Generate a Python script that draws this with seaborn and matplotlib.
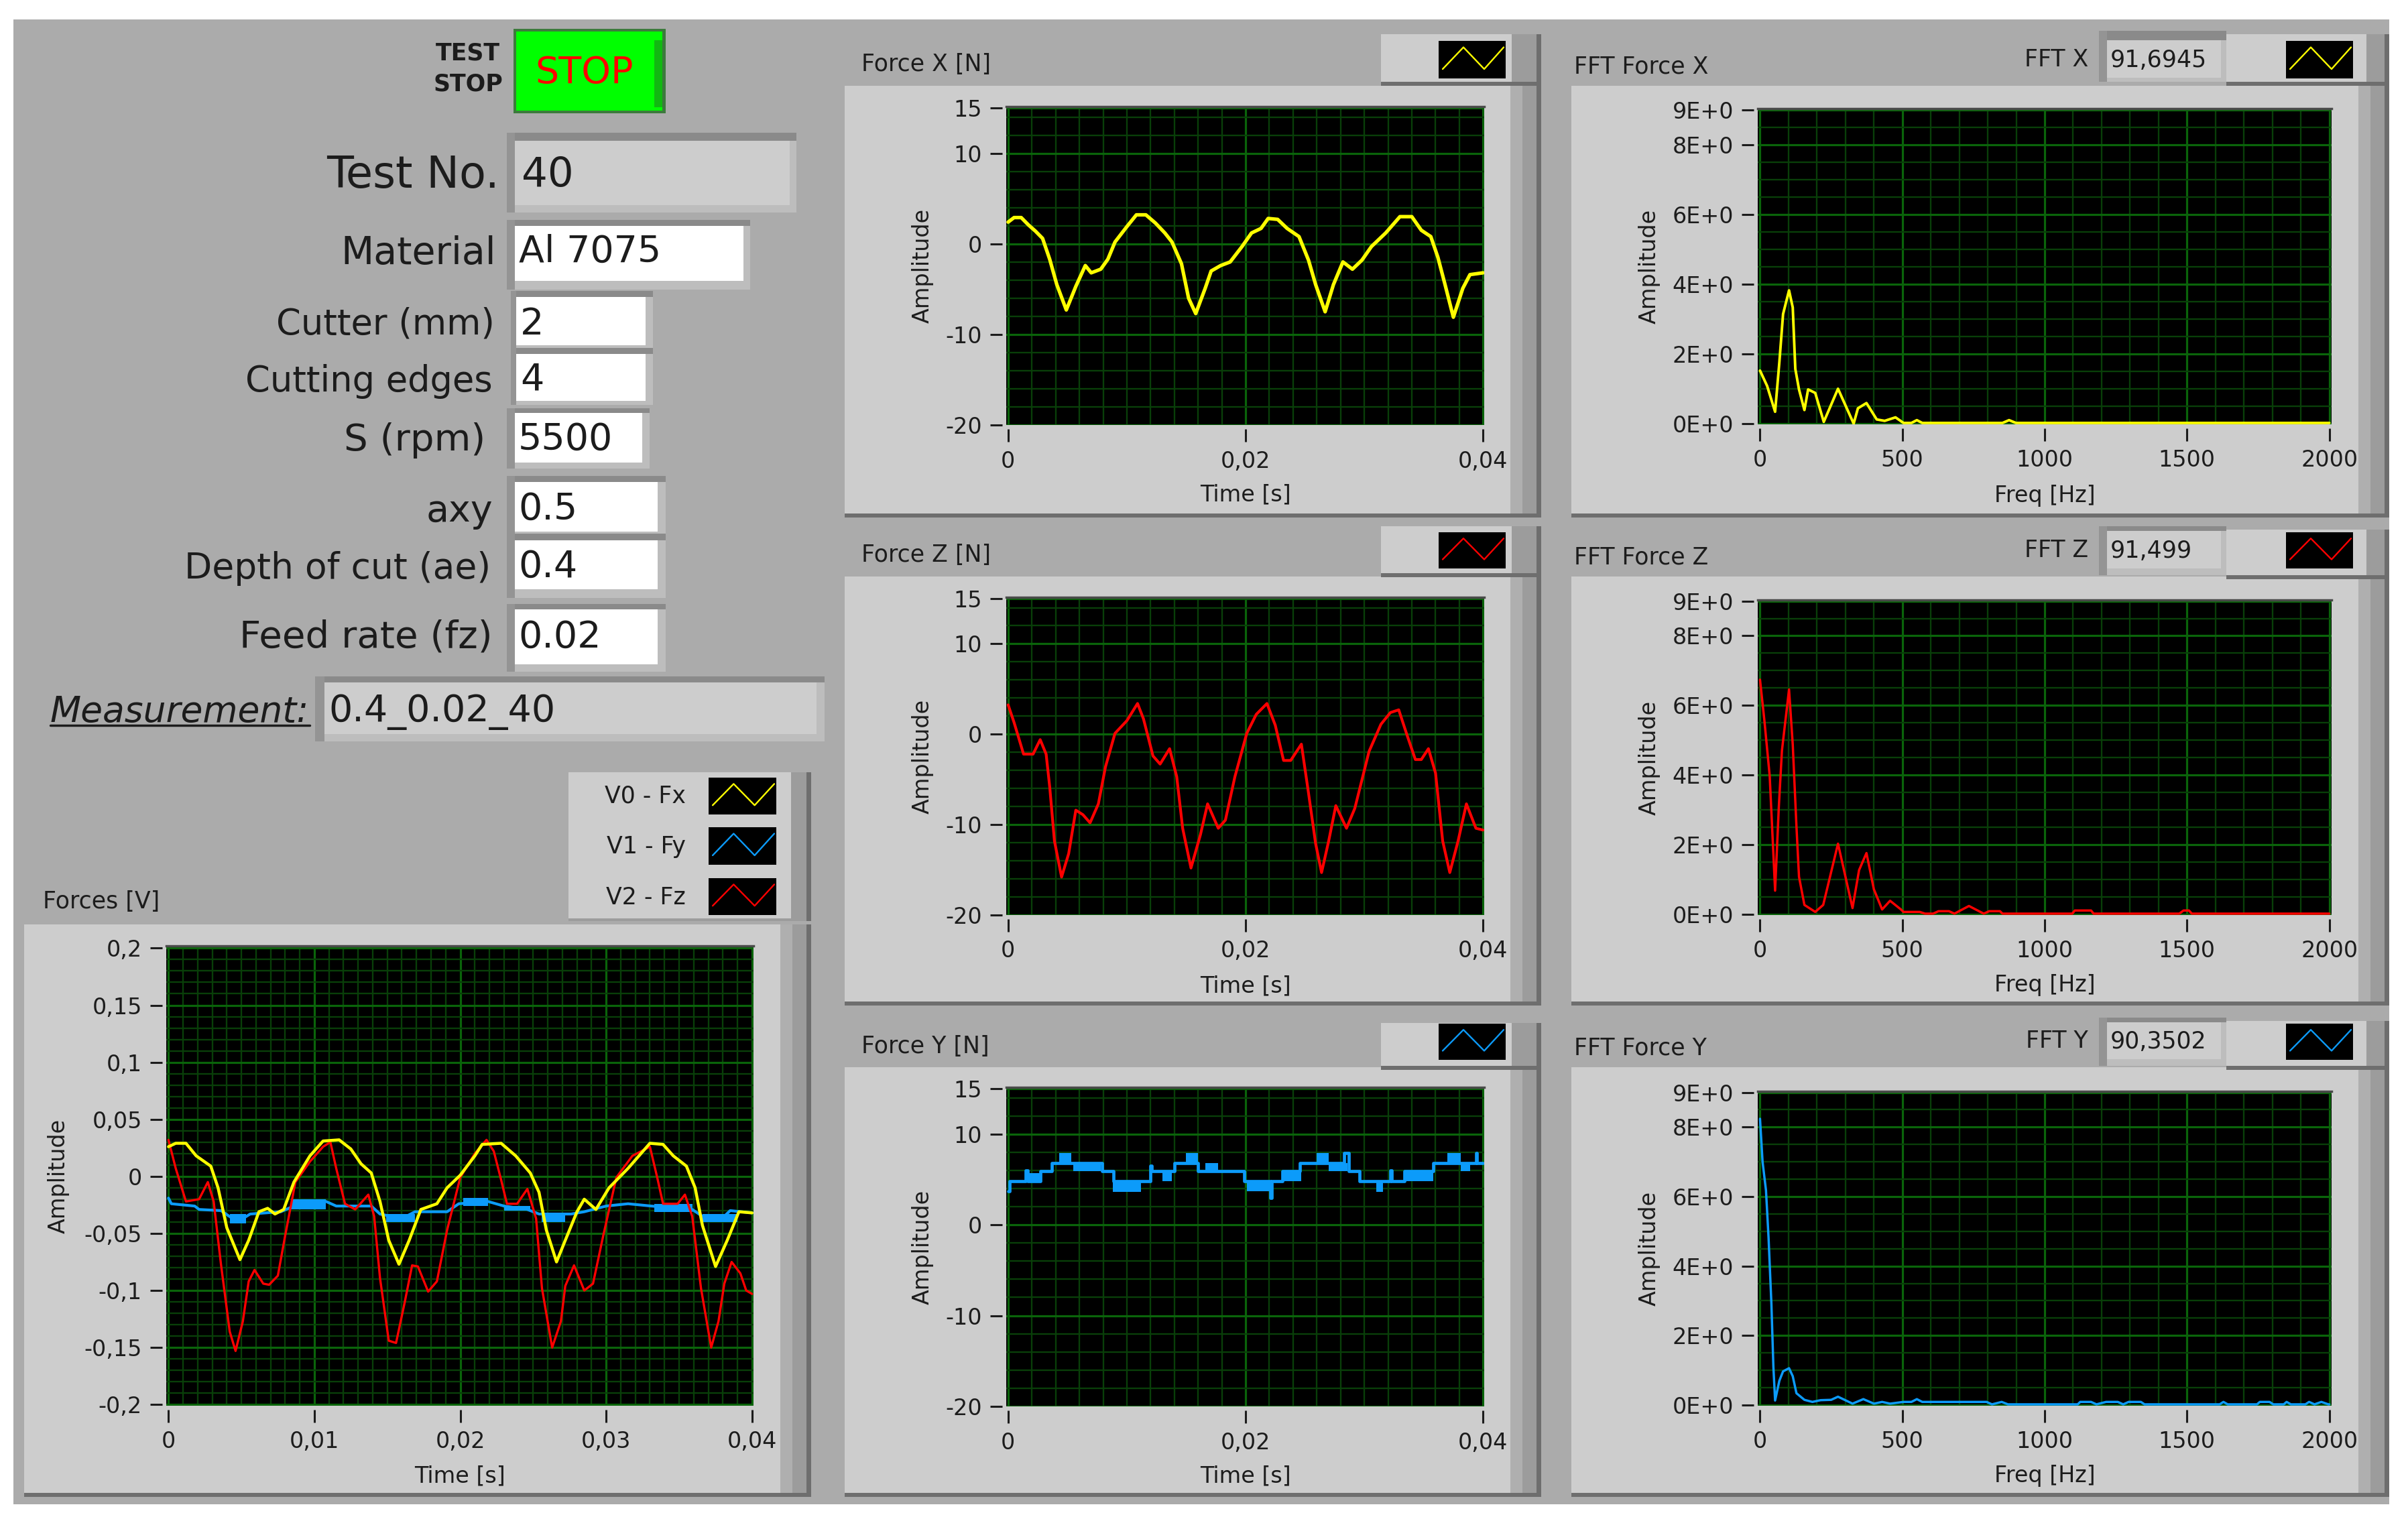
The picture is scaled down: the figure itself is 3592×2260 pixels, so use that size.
import numpy as np
import matplotlib
matplotlib.use("Agg")
import matplotlib.pyplot as plt
from matplotlib.patches import Rectangle
import seaborn as sns

# -----------------------
# Data (time in ms)
# -----------------------
fx_time = [0, 0.5, 1.1, 1.7, 2.3, 2.9, 3.5, 4.1, 4.9, 5.7, 6.5, 7.0, 7.8, 8.4, 9.0, 10.0, 10.8, 11.6, 12.4, 13.2, 13.8,
           14.6, 15.2, 15.8, 16.6, 17.1, 17.9, 18.7, 19.7, 20.5, 21.3, 21.9, 22.7, 23.5, 24.5, 25.3, 25.9, 26.7, 27.4,
           28.2, 29.0, 29.8, 30.6, 31.8, 33.0, 34.0, 34.8, 35.6, 36.2, 36.8, 37.5, 38.3, 38.9, 40]
fx_force = [2.4, 2.9, 2.9, 2.1, 1.4, 0.6, -1.7, -4.5, -7.3, -4.7, -2.4, -3.2, -2.8, -1.7, 0.2, 1.9, 3.2, 3.2, 2.3, 1.2, 0.2,
            -2.2, -6.0, -7.7, -4.9, -3.0, -2.4, -2.0, -0.3, 1.2, 1.7, 2.8, 2.7, 1.7, 0.8, -1.8, -4.5, -7.5, -4.5,
            -2.0, -2.8, -1.8, -0.3, 1.2, 3.0, 3.0, 1.5, 0.8, -1.5, -4.5, -8.1, -4.9, -3.4, -3.2]

fz_time = [0, 0.5, 1.3, 2.1, 2.7, 3.2, 3.5, 3.9, 4.5, 5.1, 5.7, 6.3, 6.9, 7.6, 8.2, 9.0, 10.0, 10.9, 11.4, 12.2, 12.8, 13.6,
           14.2, 14.7, 15.4, 16.2, 16.8, 17.7, 18.3, 19.1, 20.1, 20.9, 21.8, 22.5, 23.2, 23.8, 24.7, 25.3, 25.9, 26.4,
           27.0, 27.6, 28.5, 29.2, 30.4, 31.4, 32.2, 32.9, 33.6, 34.3, 34.8, 35.4, 36.0, 36.6, 37.2, 37.9, 38.6, 39.4, 40]
fz_force = [3.25, 1.3, -2.2, -2.2, -0.6, -2.2, -5.8, -11.8, -15.8, -13.2, -8.4, -8.9, -9.8, -7.7, -3.6, 0.1, 1.5, 3.4, 1.7, -2.4, -3.3, -1.6,
            -4.7, -10.4, -14.8, -11.1, -7.7, -10.4, -9.5, -4.7, 0.1, 2.2, 3.4, 1.0, -2.9, -2.9, -1.1, -6.5, -12.1, -15.3,
            -11.8, -7.9, -10.4, -8.2, -1.9, 1.1, 2.4, 2.7, -0.1, -2.8, -2.8, -1.6, -4.3, -11.8, -15.3, -11.8, -7.7, -10.4, -10.6]

fy_time = [0, 0.15, 1.5, 1.65, 2.7, 3.7, 4.3, 7.9, 8.9, 11.2, 12.0, 12.1, 14.0, 16.0, 19.9, 22.1, 22.2, 23.1, 24.6, 28.3, 28.7,
           29.6, 32.2, 32.3, 33.4, 35.8, 39.4, 39.5, 40]
fy_force = [3.7, 4.8, 6.0, 4.8, 5.9, 6.8, 6.8, 5.9, 4.8, 4.8, 6.5, 5.9, 6.8, 5.9, 4.8, 3.0, 4.8, 5.9, 6.8, 7.9, 5.9,
            4.8, 6.0, 4.8, 5.9, 6.8, 7.9, 6.8, 6.8]
# quantisation noise makes the blue trace look like solid blocks
fy_band_start = [1.5, 4.3, 5.5, 8.8, 13.0, 15.0, 16.6, 20.1, 23.1, 26.0, 27.0, 31.0, 33.4, 37.0, 38.1]
fy_band_end = [2.7, 5.3, 7.8, 11.2, 13.8, 16.0, 17.7, 22.1, 24.7, 27.0, 28.6, 31.6, 35.8, 38.1, 38.9]
fy_band_low = [4.8, 6.8, 5.9, 3.6, 4.8, 6.8, 5.9, 3.7, 4.8, 6.8, 5.9, 3.6, 4.8, 6.8, 5.9]
fy_band_high = [5.7, 7.9, 6.8, 4.8, 5.9, 7.9, 6.8, 4.8, 5.9, 7.9, 6.8, 4.8, 5.9, 7.9, 6.8]

v0_time = [0, 0.5, 1.2, 1.9, 2.9, 3.4, 4.0, 4.9, 5.5, 6.2, 6.8, 7.3, 7.9, 8.6, 9.7, 10.6, 11.7, 12.5, 13.2, 13.9, 14.5, 15.1,
           15.8, 16.5, 17.3, 18.4, 19.1, 20.0, 21.0, 21.5, 22.8, 23.8, 24.8, 25.4, 25.9, 26.6, 27.2, 28.0, 28.5, 29.3,
           30.2, 31.5, 33.0, 33.9, 34.6, 35.5, 36.1, 36.6, 37.5, 38.3, 39.1, 40]
v0_volt = [.026, .029, .029, .018, .009, -.010, -.045, -.073, -.056, -.031, -.028, -.033, -.029, -.005, .018, .031, .032, .024, .011, .003, -.022, -.056,
           -.077, -.056, -.029, -.024, -.010, .001, .018, .028, .029, .018, .003, -.014, -.047, -.075, -.056, -.031, -.020, -.029,
           -.010, .007, .029, .028, .018, .009, -.010, -.043, -.079, -.056, -.031, -.032]

v2_time = [0, .5, 1.2, 2.1, 2.7, 3.1, 3.6, 4.2, 4.6, 5.1, 5.5, 5.9, 6.5, 6.9, 7.5, 8.0, 8.7, 9.7, 10.6, 11.1, 11.5, 12.1, 12.8, 13.7,
           14.1, 14.5, 15.1, 15.6, 16.2, 16.7, 17.1, 17.8, 18.4, 19.1, 20.0, 21.0, 21.8, 22.3, 22.8, 23.2, 23.9, 24.6, 25.2,
           25.6, 26.3, 26.9, 27.2, 27.8, 28.5, 29.1, 29.8, 30.7, 31.8, 33.0, 33.5, 33.9, 34.9, 35.4, 35.9, 36.5, 37.2, 37.7,
           38.1, 38.6, 39.2, 39.6, 40]
v2_volt = [.032, .007, -.022, -.020, -.005, -.022, -.077, -.136, -.153, -.127, -.092, -.082, -.094, -.095, -.087, -.052, -.005, .013, .026, .030, .007, -.024, -.029, -.016,
           -.035, -.089, -.144, -.146, -.110, -.078, -.079, -.101, -.092, -.047, -.001, .020, .032, .022, -.003, -.024, -.024, -.011, -.037,
           -.098, -.150, -.127, -.096, -.078, -.100, -.094, -.052, -.001, .018, .026, -.001, -.024, -.024, -.016, -.035, -.098, -.150, -.127,
           -.094, -.075, -.085, -.100, -.103]

v1_time = [0, .2, 1.8, 2.1, 3.6, 4.4, 5.1, 5.6, 7.7, 8.6, 9.5, 10.8, 11.5, 13.9, 14.5, 16.0, 16.9, 19.1, 19.9, 21.9, 23.0, 24.6,
           25.4, 27.6, 28.5, 30.0, 31.5, 33.1, 35.9, 36.6, 38.1, 38.5, 40]
v1_volt = [-.019, -.024, -.026, -.029, -.030, -.037, -.037, -.033, -.031, -.026, -.022, -.022, -.026, -.026, -.033, -.037, -.031, -.031, -.024, -.022, -.026, -.029,
           -.033, -.033, -.031, -.026, -.024, -.026, -.029, -.035, -.035, -.030, -.032]
v1_band_start = [4.2, 8.4, 14.9, 20.2, 23.0, 25.6, 33.3, 36.6]
v1_band_end = [5.3, 10.8, 16.9, 21.9, 24.8, 27.2, 35.9, 39.0]
v1_band_low = [-.041, -.029, -.040, -.026, -.030, -.040, -.031, -.040]
v1_band_high = [-.033, -.020, -.033, -.019, -.026, -.033, -.024, -.033]

fft_x_freq = [0, 25, 53, 68, 81, 102, 115, 124, 137, 156, 169, 194, 224, 274, 329, 344, 374, 410, 438, 476, 504, 532, 551, 570,
              852, 875, 899, 2000]
fft_x_amp = [1.52, 1.08, .34, 1.76, 3.14, 3.82, 3.33, 1.57, .98, .39, .98, .88, .05, 1.0, 0, .44, .59, .12, .08, .18, .02, .02, .1, .02,
             .02, .1, .02, .02]

fft_z_freq = [0, 15, 34, 53, 66, 77, 102, 115, 128, 137, 156, 194, 222, 274, 325, 348, 374, 400, 429, 457, 495, 504, 561, 580, 608,
              627, 664, 683, 734, 786, 805, 843, 852, 1097, 1106, 1163, 1172, 1473, 1488, 1507, 1517, 2000]
fft_z_amp = [6.74, 5.6, 3.98, .68, 3.07, 4.7, 6.46, 4.88, 2.53, 1.08, .27, .07, .27, 2.03, .18, 1.27, 1.76, .72, .14, .39, .14, .07, .07, .02, .02,
             .09, .09, .02, .24, .02, .09, .09, .02, .02, .11, .11, .02, .02, .11, .11, .02, .02]

fft_y_freq = [0, 9, 21, 30, 40, 47, 53, 68, 81, 102, 115, 128, 156, 184, 213, 250, 274, 325, 363, 400, 429, 457, 504, 532, 551, 570,
              796, 815, 849, 871, 1116, 1125, 1163, 1182, 1216, 1257, 1276, 1295, 1338, 1351, 1615, 1628, 1643, 1746, 1756, 1790,
              1803, 1840, 1850, 1865, 1916, 1929, 1948, 1972, 1997, 2000]
fft_y_amp = [8.24, 7.0, 6.18, 4.82, 2.92, 1.1, .13, .7, .97, 1.06, .83, .34, .15, .09, .14, .15, .24, .04, .17, .04, .09, .04, .09, .09, .17, .09,
             .09, .02, .09, .02, .02, .09, .09, .02, .09, .09, .02, .09, .09, .02, .02, .09, .02, .02, .09, .09,
             .02, .02, .09, .02, .02, .09, .02, .09, .02, .02]

force_yticks = [-20, -10, 0, 10, 15]
force_ylabels = ["-20", "-10", "0", "10", "15"]
force_xticks = [0, 0.02, 0.04]
force_xlabels = ["0", "0,02", "0,04"]
fft_yticks = [0, 2, 4, 6, 8, 9]
fft_ylabels = ["0E+0", "2E+0", "4E+0", "6E+0", "8E+0", "9E+0"]
fft_xticks = [0, 500, 1000, 1500, 2000]
fft_xlabels = ["0", "500", "1000", "1500", "2000"]
volt_yticks = [-0.2, -0.15, -0.1, -0.05, 0, 0.05, 0.1, 0.15, 0.2]
volt_ylabels = ["-0,2", "-0,15", "-0,1", "-0,05", "0", "0,05", "0,1", "0,15", "0,2"]
volt_xticks = [0, 0.01, 0.02, 0.03, 0.04]
volt_xlabels = ["0", "0,01", "0,02", "0,03", "0,04"]

form_labels = ["Material", "Cutter (mm)", "Cutting edges", "S (rpm)", "axy", "Depth of cut (ae)", "Feed rate (fz)"]
form_values = ["Al 7075", "2", "4", "5500", "0.5", "0.4", "0.02"]

# -----------------------
# Colours
# -----------------------
YELLOW = "#FFFF00"
RED = "#FF0000"
BLUE = "#0C9BFA"
PANEL = "#ABABAB"
LIGHT = "#CDCDCD"
BEVEL1 = "#AFAFAF"
BEVEL2 = "#9C9C9C"
DARK = "#6E6E6E"
TEXT = "#1C1C1C"
GRID_MAJOR = "#0A640A"
GRID_MINOR = "#093F09"

# -----------------------
# Figure and background
# -----------------------
sns.set_style("dark")
plt.rcParams["font.family"] = ["DejaVu Sans"]
W, H = 3592, 2260
fig = plt.figure(figsize=(W / 100, H / 100), dpi=100, facecolor="white")
ui = fig.add_axes([0, 0, 1, 1], zorder=0)
ui.set_xlim(0, W)
ui.set_ylim(H, 0)
ui.axis("off")


def box(x0, y0, x1, y1, color):
    ui.add_patch(Rectangle((x0, y0), x1 - x0, y1 - y0, facecolor=color, edgecolor="none"))


def label(x, y, s, size=24, ha="left", **kw):
    kw.setdefault("color", TEXT)
    # va center sits a bit high because of the descender box
    ui.text(x, y + size * 0.12, s, fontsize=size, ha=ha, va="center", **kw)


def field(x0, y0, x1, y1, ix0, iy0, ix1, iy1, fill):
    # LabVIEW style sunken box
    box(x0, y0, x1, y1, "#BDBDBD")
    box(x0, y0, x1, iy0, "#8A8A8A")
    box(x0, y0, ix0, y1, "#949494")
    box(ix0, iy0, ix1, iy1, fill)


def swatch(x0, y0, x1, y1, color):
    box(x0, y0, x1, y1, "black")
    xs = [x0 + f * (x1 - x0) for f in (0.06, 0.37, 0.68, 0.97)]
    ys = [y0 + f * (y1 - y0) for f in (0.75, 0.17, 0.75, 0.17)]
    ui.plot(xs, ys, color=color, lw=1.7)


def panel(x0, y0, x1, y1, light_end):
    # light face, two bevel stripes and a dark edge on the right
    box(x0, y0, x1, y1, DARK)
    box(x0, y0, x1 - 7, y1 - 6, BEVEL2)
    box(x0, y0, light_end + 18, y1 - 6, BEVEL1)
    box(x0, y0, light_end, y1 - 6, LIGHT)


box(20, 29, 3564, 2244, PANEL)

# -----------------------
# Left form
# -----------------------
box(766, 43, 993, 169, "#3C7A3C")
box(770, 47, 988, 165, "#00FF00")
box(976, 60, 988, 160, "#12B812")
label(872, 104, "STOP", size=40, ha="center", color=RED)
label(698, 76, "TEST", size=25, ha="center", fontweight="bold")
label(698, 122, "STOP", size=25, ha="center", fontweight="bold")

field(756, 198, 1188, 317, 768, 210, 1178, 306, LIGHT)
label(745, 256, "Test No.", size=47, ha="right")
label(778, 256, "40", size=44)

form_boxes = [
    (756, 328, 1119, 432, 768, 337, 1109, 419),
    (762, 434, 974, 519, 770, 443, 963, 515),
    (762, 519, 974, 604, 770, 528, 963, 598),
    (756, 609, 969, 699, 768, 616, 958, 690),
    (756, 710, 993, 800, 768, 719, 981, 793),
    (756, 796, 993, 892, 768, 806, 981, 879),
    (756, 901, 993, 1002, 768, 909, 981, 991),
]
form_label_size = [41, 38, 38, 40.5, 40, 38.5, 40.5]
form_label_right = [740, 738, 735, 724, 735, 732, 735]
form_label_y = [374, 479, 564, 652, 758, 843, 946]
form_value_left = [774, 776, 776, 773, 773, 773, 773]
form_value_y = [371, 479, 562, 651, 755, 841, 946]
for i, coords in enumerate(form_boxes):
    field(*coords, "white")
    label(form_label_right[i], form_label_y[i], form_labels[i], size=form_label_size[i], ha="right")
    label(form_value_left[i], form_value_y[i], form_values[i], size=40)

label(75, 1057, "Measurement:", size=38.5, style="italic")
ui.plot([75, 462], [1082, 1082], color=TEXT, lw=2.5)
field(470, 1009, 1230, 1106, 484, 1018, 1218, 1095, LIGHT)
label(490, 1057, "0.4_0.02_40", size=40)


# -----------------------
# Chart helper
# -----------------------
def make_axes(x0, y0, x1, y1, xlim, ylim, xticks, xlabels, yticks, ylabels, xminor, yminor,
              xname, xname_x, xname_y, amp_x, amp_y):
    ax = fig.add_axes([x0 / W, 1 - y1 / H, (x1 - x0) / W, (y1 - y0) / H], zorder=2, facecolor="black")
    ax.set_xlim(*xlim)
    ax.set_ylim(*ylim)
    ax.set_xticks(xticks)
    ax.set_xticklabels(xlabels)
    ax.set_yticks(yticks)
    ax.set_yticklabels(ylabels)
    ax.set_xticks(xminor, minor=True)
    ax.set_yticks(yminor, minor=True)
    ax.set_axisbelow(True)
    ax.grid(which="major", color=GRID_MAJOR, lw=2.3)
    ax.grid(which="minor", color=GRID_MINOR, lw=1.7)
    for side in ["left", "bottom"]:
        ax.spines[side].set_position(("outward", 4))
        ax.spines[side].set_color("none")
    ax.spines["right"].set_visible(False)
    ax.spines["top"].set_color("#4A4A4A")
    ax.spines["top"].set_linewidth(2.5)
    ax.tick_params(which="major", axis="y", left=True, length=13, width=2.2, color=TEXT, pad=9, labelsize=24, labelcolor=TEXT)
    ax.tick_params(which="major", axis="x", bottom=True, length=14, width=2.2, color=TEXT, pad=9, labelsize=24, labelcolor=TEXT)
    ax.tick_params(which="minor", length=0)
    ax.set_xlabel(xname, fontsize=24, color=TEXT, va="center")
    ax.set_ylabel("Amplitude", fontsize=24, color=TEXT, va="center")
    ax.xaxis.set_label_coords((xname_x - x0) / (x1 - x0), (y1 - xname_y) / (y1 - y0))
    ax.yaxis.set_label_coords((amp_x - x0) / (x1 - x0), (y1 - amp_y) / (y1 - y0))
    return ax


def trace(ax, x, y, color, lw, **kw):
    xname = ax.get_xlabel()
    yname = ax.get_ylabel()
    sns.lineplot(x=x, y=y, color=color, linewidth=lw, sort=False, estimator=None, legend=False, ax=ax, **kw)
    ax.set_xlabel(xname)
    ax.set_ylabel(yname)


def blocks(ax, start, end, low, high, color):
    for a, b, lo, hi in zip(start, end, low, high):
        ax.fill_between([a / 1000, b / 1000], [lo, lo], [hi, hi], color=color, lw=0)


def ms(values):
    return np.array(values) / 1000


force_xlim = (-0.00016, 0.0401)
force_ylim = (-20, 15.15)
fft_xlim = (-8, 2008)
fft_ylim = (-0.02, 9.03)
force_xminor = np.arange(0, 0.0401, 0.002)
force_yminor = np.arange(-20, 15, 2)
fft_xminor = np.arange(0, 2001, 100)
fft_yminor = np.arange(0, 9, 0.5)

# -----------------------
# Middle column: forces
# -----------------------
force_panels = [
    ("Force X [N]", 128, 772, 51, 122, 61, 117, 159, 634, 738, 395, 93, YELLOW),
    ("Force Z [N]", 860, 1500, 785, 855, 794, 848, 891, 1365, 1471, 1129, 825, RED),
    ("Force Y [N]", 1592, 2233, 1526, 1590, 1527, 1581, 1622, 2098, 2202, 1860, 1558, BLUE),
]
force_axes = []
for name, top, bot, leg0, leg1, sw0, sw1, py0, py1, xname_y, amp_y, title_y, col in force_panels:
    panel(1260, top, 2299, bot, 2253)
    box(2060, leg0, 2299, leg1 + 6, DARK)
    box(2060, leg0, 2292, leg1, BEVEL2)
    box(2060, leg0, 2255, leg1, LIGHT)
    swatch(2146, sw0, 2246, sw1, col)
    label(1285, title_y, name, size=25)
    force_axes.append(make_axes(1501, py0, 2214, py1, force_xlim, force_ylim, force_xticks, force_xlabels,
                                force_yticks, force_ylabels, force_xminor, force_yminor,
                                "Time [s]", 1860, xname_y, 1376, amp_y))

trace(force_axes[0], ms(fx_time), fx_force, YELLOW, 3.8)
trace(force_axes[1], ms(fz_time), fz_force, RED, 3.0)
blocks(force_axes[2], fy_band_start, fy_band_end, fy_band_low, fy_band_high, BLUE)
trace(force_axes[2], ms(fy_time), fy_force, BLUE, 3.4, drawstyle="steps-post")

# -----------------------
# Right column: spectra
# -----------------------
fft_panels = [
    ("FFT Force X", "FFT X", "91,6945", 128, 772, 46, 122, 60, 116, 162, 633, 740, 395, 97, 86, 61, 117, YELLOW),
    ("FFT Force Z", "FFT Z", "91,499", 860, 1500, 785, 858, 792, 848, 895, 1365, 1470, 1129, 829, 818, 794, 848, RED),
    ("FFT Force Y", "FFT Y", "90,3502", 1592, 2233, 1518, 1590, 1525, 1580, 1628, 2097, 2202, 1860, 1560, 1550, 1527, 1581, BLUE),
]
fft_axes = []
for name, short, val, top, bot, f0, f1, i0, i1, py0, py1, xname_y, amp_y, title_y, short_y, sw0, sw1, col in fft_panels:
    panel(2344, top, 3564, bot, 3518)
    box(3321, f0 + 5, 3564, f1 + 6, DARK)
    box(3321, f0 + 5, 3557, f1, BEVEL2)
    box(3321, f0 + 5, 3530, f1, LIGHT)
    field(3131, f0, 3321, f1, 3143, i0, 3313, i1, LIGHT)
    swatch(3410, sw0, 3510, sw1, col)
    label(2348, title_y, name, size=25)
    label(3115, short_y, short, size=25, ha="right")
    label(3148, short_y + 1, val, size=25)
    fft_axes.append(make_axes(2622, py0, 3478, py1, fft_xlim, fft_ylim, fft_xticks, fft_xlabels,
                              fft_yticks, fft_ylabels, fft_xminor, fft_yminor,
                              "Freq [Hz]", 3041, xname_y, 2460, amp_y))

trace(fft_axes[0], fft_x_freq, fft_x_amp, YELLOW, 2.8)
trace(fft_axes[1], fft_z_freq, fft_z_amp, RED, 2.5)
trace(fft_axes[2], fft_y_freq, fft_y_amp, BLUE, 2.5)

# -----------------------
# Bottom left: all three voltages
# -----------------------
panel(36, 1379, 1210, 2233, 1164)
box(848, 1152, 1210, 1374, DARK)
box(848, 1152, 1203, 1374, BEVEL2)
box(848, 1152, 1180, 1370, LIGHT)
legend_names = ["V0 - Fx", "V1 - Fy", "V2 - Fz"]
legend_colors = [YELLOW, BLUE, RED]
legend_y = [1184, 1260, 1336]
legend_sw = [(1160, 1215), (1234, 1290), (1310, 1365)]
for i in range(3):
    label(1023, legend_y[i], legend_names[i], size=25, ha="right")
    swatch(1057, legend_sw[i][0], 1158, legend_sw[i][1], legend_colors[i])
label(64, 1342, "Forces [V]", size=25)

volt_ax = make_axes(248, 1411, 1124, 2097, (-0.00015, 0.0401), (-0.201, 0.202), volt_xticks, volt_xlabels,
                    volt_yticks, volt_ylabels, np.arange(0, 0.0401, 0.001), np.arange(-0.2, 0.2, 0.01),
                    "Time [s]", 683, 2202, 87, 1755)
blocks(volt_ax, v1_band_start, v1_band_end, v1_band_low, v1_band_high, BLUE)
trace(volt_ax, ms(v1_time), v1_volt, BLUE, 3.0)
trace(volt_ax, ms(v2_time), v2_volt, RED, 2.4)
trace(volt_ax, ms(v0_time), v0_volt, YELLOW, 3.2)

fig.savefig("out.png", dpi=100, facecolor="white")
